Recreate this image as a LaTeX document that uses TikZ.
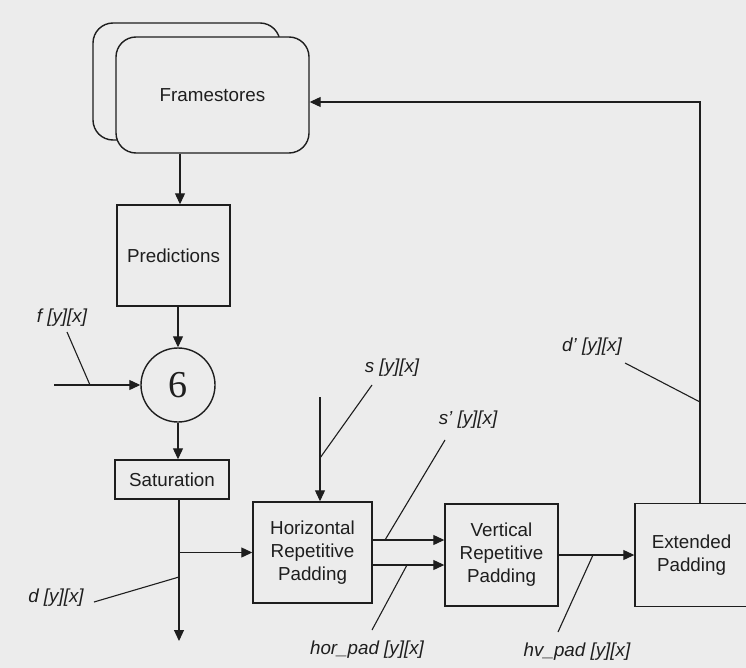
\documentclass[tikz,border=0pt]{standalone}
\usepackage{fontspec}
\setmainfont{Liberation Sans}
\newfontfamily\serifsix{Liberation Serif}
\usetikzlibrary{arrows.meta,calc}
\definecolor{bg}{RGB}{236,236,236}
\definecolor{ink}{RGB}{30,30,30}
\begin{document}
\begin{tikzpicture}[x=1pt,y=-1pt,
  box/.style={draw=ink,line width=1.4pt,fill=bg,inner sep=0pt,align=center,text=ink,
    font=\fontsize{18.8}{23}\selectfont},
  fsbox/.style={box,rounded corners=20pt},
  arr/.style={draw=ink,line width=1.1pt,-{Triangle[length=11pt,width=10pt]}},
  ln/.style={draw=ink,line width=1.1pt},
  lab/.style={font=\itshape\fontsize{18.8}{22}\selectfont,inner sep=0pt,text=ink}]
\fill[bg] (0,0) rectangle (746,668);
\clip (0,0) rectangle (746,668);
% boxes
\node[fsbox,minimum width=187pt,minimum height=117pt] (fsb) at (186.5,81.5) {};
\node[fsbox,minimum width=193pt,minimum height=116pt] (fs) at (212.5,95) {Framestores};
\node[box,minimum width=113pt,minimum height=101pt] (pred) at (173.5,255.5) {Predictions};
\node[draw=ink,circle,line width=1.4pt,minimum size=74pt,inner sep=0pt,text=ink,
  font=\serifsix\fontsize{38}{38}\selectfont] (circ) at (178,385) {6};
\node[box,minimum width=114pt,minimum height=39pt] (sat) at (172,479.5) {Saturation};
\node[box,minimum width=119pt,minimum height=101pt] (hor) at (312.5,552.5) {Horizontal\\Repetitive\\Padding};
\node[box,minimum width=113pt,minimum height=102pt] (ver) at (501.5,555) {Vertical\\Repetitive\\Padding};
\node[box,minimum width=113pt,minimum height=103pt] (ext) at (691.5,555) {Extended\\Padding};
% helper coordinates
\coordinate (xa) at (180,0);
\coordinate (fin) at (54,385);
\coordinate (dend) at (179,641);
\path (hor.west -| dend) coordinate (br);
\coordinate (sin) at (320,397);
\coordinate (o1) at (0,540);
\coordinate (o2) at (0,565);
\coordinate (fb) at (700,0);
\coordinate (fby) at (0,102);
% connectors
\draw[arr] (fs.south -| xa) -- (pred.north -| xa);
\draw[arr] (pred.south -| circ) -- (circ.north);
\draw[arr] (circ.south) -- (sat.north -| circ);
\draw[arr] (fin) -- (circ.west);
\draw[arr] (sat.south -| dend) -- (dend);
\draw[arr] (br) -- (hor.west);
\draw[arr] (sin) -- (hor.north -| sin);
\draw[arr] (hor.east |- o1) -- (ver.west |- o1);
\draw[arr] (hor.east |- o2) -- (ver.west |- o2);
\draw[arr] (ver.east) -- (ext.west);
\draw[arr] (ext.north -| fb) -- (fb |- fby) -- (fs.east |- fby);
% labels
\node[lab] (fl) at (62,318) {f [y][x]};
\node[lab] (dl) at (56,598) {d [y][x]};
\node[lab] (sl) at (392,368) {s [y][x]};
\node[lab] (spl) at (468,420) {s' [y][x]};
\node[lab] (hl) at (367,650) {hor\_pad [y][x]};
\node[lab] (hvl) at (577,652) {hv\_pad [y][x]};
\node[lab] (dpl) at (592,347) {d' [y][x]};
% leader lines
\coordinate (fa) at (67,332);   \coordinate (fb2) at (90,385);
\coordinate (da) at (94,602);   \coordinate (db) at (179,577);
\coordinate (sa) at (372,385);  \coordinate (sb) at (320,458);
\coordinate (spa) at (445,440); \coordinate (spb) at (385,540);
\coordinate (ha) at (407,565);  \coordinate (hb) at (372,630);
\coordinate (hva) at (593,555); \coordinate (hvb) at (558,632);
\coordinate (dpa) at (625,363); \coordinate (dpb) at (700,402);
\draw[ln] (fa) -- (fb2);
\draw[ln] (da) -- (db);
\draw[ln] (sa) -- (sb);
\draw[ln] (spa) -- (spb);
\draw[ln] (ha) -- (hb);
\draw[ln] (hva) -- (hvb);
\draw[ln] (dpa) -- (dpb);
\end{tikzpicture}
\end{document}
